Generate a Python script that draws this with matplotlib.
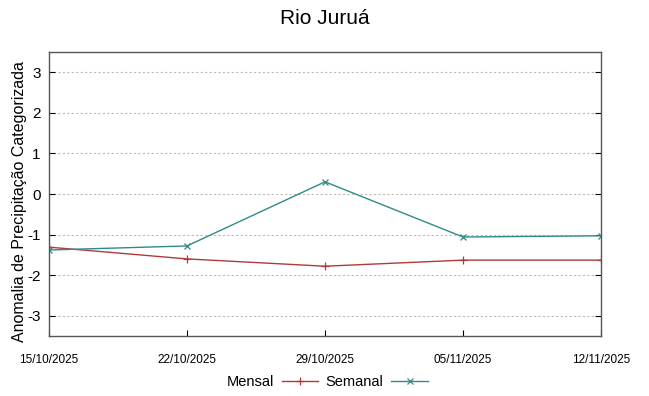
import matplotlib
matplotlib.use("Agg")
import matplotlib.pyplot as plt
import matplotlib.dates as mdates
import numpy as np
import datetime as dt

dates = ["2025-10-15", "2025-10-22", "2025-10-29", "2025-11-05", "2025-11-12"]
mensal = [-1.31, -1.60, -1.78, -1.63, -1.63]
semanal = [-1.38, -1.28, 0.30, -1.06, -1.03]
yticks = [-3, -2, -1, 0, 1, 2, 3]

plt.rcParams['font.family'] = ['Liberation Sans', 'DejaVu Sans']
plt.rcParams['axes.unicode_minus'] = False

x = [dt.datetime.strptime(d, "%Y-%m-%d") for d in dates]

fig = plt.figure(figsize=(6.49, 3.96), dpi=100)
ax = fig.add_axes([49/649, 1-336/396, (601-49)/649, (336-52)/396])

l1, = ax.plot(x, mensal, color='#b03a3a', lw=1.0, marker='+', ms=6, mew=0.9, label='Mensal')
l2, = ax.plot(x, semanal, color='#2e8b8b', lw=1.0, marker='x', ms=5, mew=0.9, label='Semanal')

ax.set_xlim(x[0], x[-1])
ax.set_ylim(-3.5, 3.5)
ax.set_yticks(yticks)
ax.set_xticks(x)
ax.xaxis.set_major_formatter(mdates.DateFormatter('%d/%m/%Y'))
ax.tick_params(axis='x', labelsize=8.5, direction='in', length=4, pad=13, top=False)
ax.tick_params(axis='y', labelsize=11, direction='in', length=4, right=True, pad=6)
ax.grid(axis='y', color='#bbbbbb', linestyle=(0, (2, 2)), lw=0.8)
for s in ax.spines.values():
    s.set_color('#555555')
    s.set_linewidth(1.0)

ax.set_ylabel('Anomalia de Precipitação Categorizada', fontsize=11.5)
ax.yaxis.set_label_coords(-0.039, 0.475)
fig.suptitle('Rio Juruá', fontsize=15, y=1-18/396, va='center')

fig.legend(handles=[l1, l2], loc='center', bbox_to_anchor=(0.504, 1-382/396), ncol=2,
           frameon=False, markerfirst=False, fontsize=10.5, handlelength=2.5,
           columnspacing=0.5, handletextpad=0.55)

fig.savefig('out.png', dpi=100)
